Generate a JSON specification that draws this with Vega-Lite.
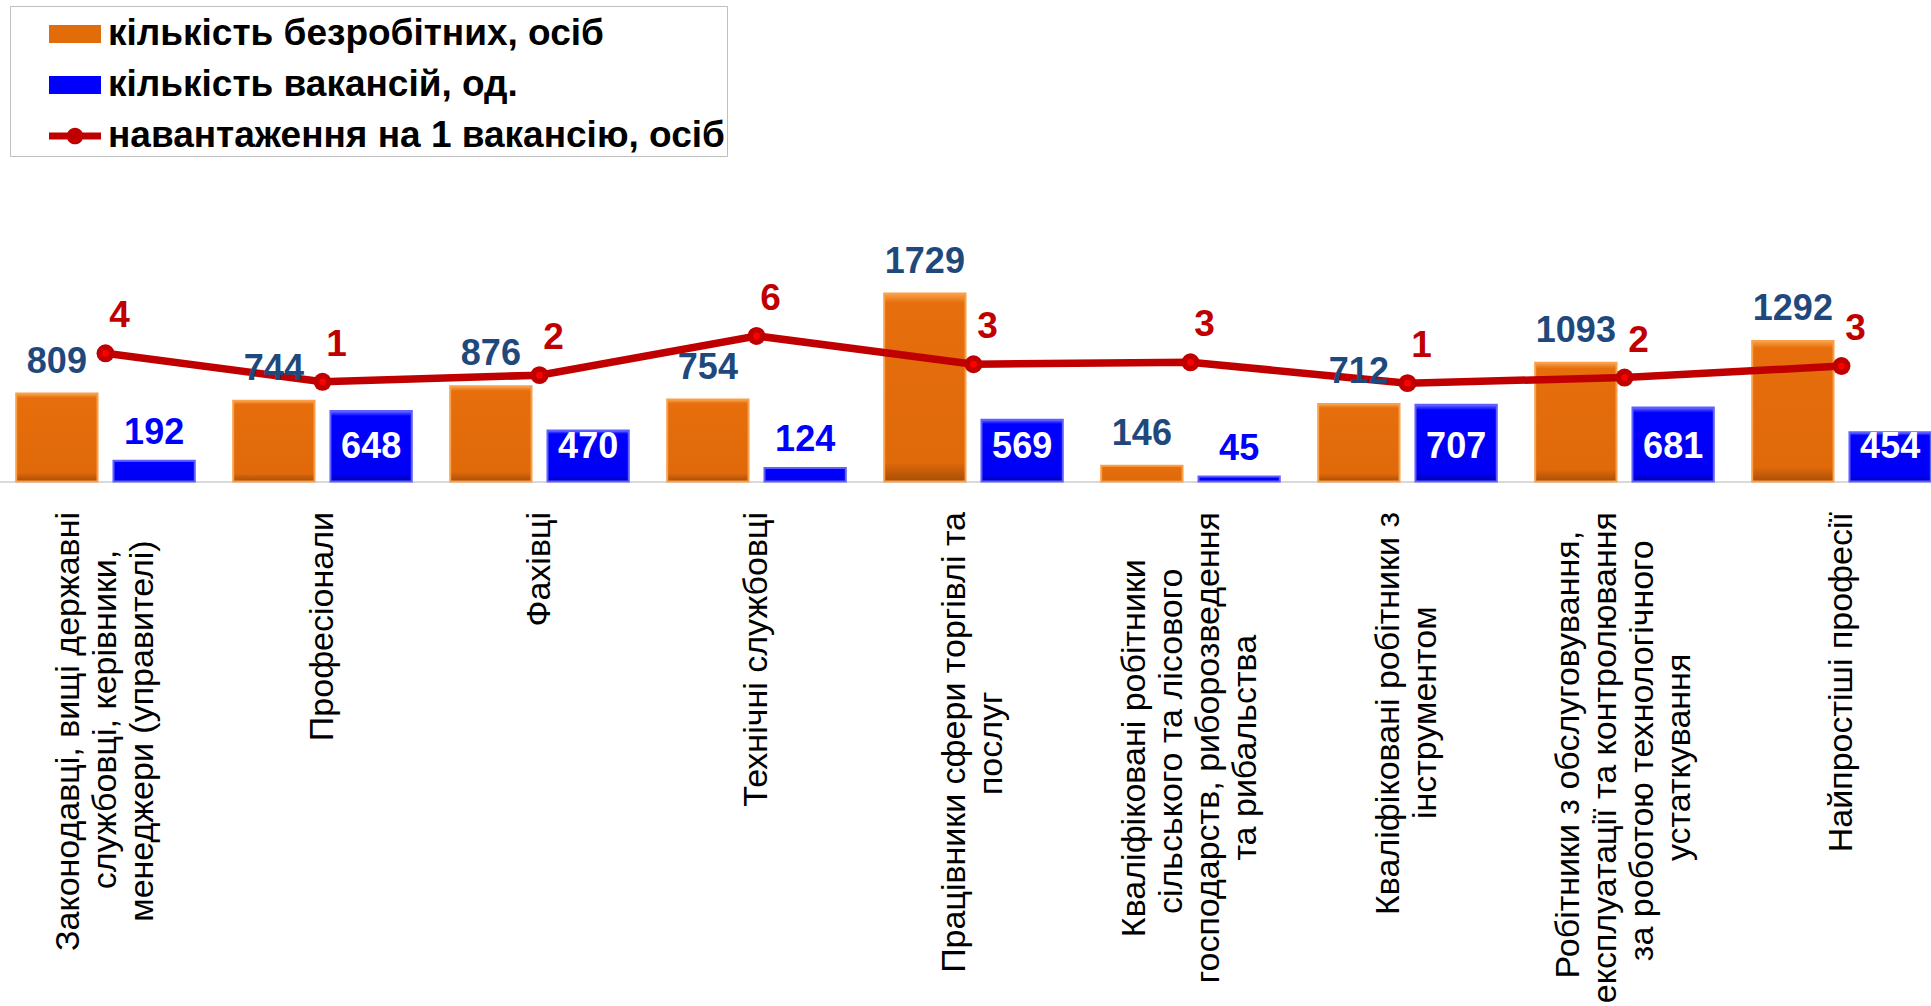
{
  "$schema": "https://vega.github.io/schema/vega-lite/v6.json",
  "width": 1931,
  "height": 481.5,
  "autosize": "none",
  "padding": {"left": 0, "top": 0, "right": 0, "bottom": 524.5},
  "background": "#FFFFFF",
  "config": {"view": {"stroke": null}, "font": "Liberation Sans"},
  "data": {"values": [
    {"c": "Законодавці, вищі державні службовці, керівники, менеджери (управителі)", "s": "кількість безробітних, осіб", "v": 809},
    {"c": "Законодавці, вищі державні службовці, керівники, менеджери (управителі)", "s": "кількість вакансій, од.", "v": 192},
    {"c": "Законодавці, вищі державні службовці, керівники, менеджери (управителі)", "s": "навантаження на 1 вакансію, осіб", "v": 4.2135},
    {"c": "Професіонали", "s": "кількість безробітних, осіб", "v": 744},
    {"c": "Професіонали", "s": "кількість вакансій, од.", "v": 648},
    {"c": "Професіонали", "s": "навантаження на 1 вакансію, осіб", "v": 1.1481},
    {"c": "Фахівці", "s": "кількість безробітних, осіб", "v": 876},
    {"c": "Фахівці", "s": "кількість вакансій, од.", "v": 470},
    {"c": "Фахівці", "s": "навантаження на 1 вакансію, осіб", "v": 1.8638},
    {"c": "Технічні службовці", "s": "кількість безробітних, осіб", "v": 754},
    {"c": "Технічні службовці", "s": "кількість вакансій, од.", "v": 124},
    {"c": "Технічні службовці", "s": "навантаження на 1 вакансію, осіб", "v": 6.0806},
    {"c": "Працівники сфери торгівлі та послуг", "s": "кількість безробітних, осіб", "v": 1729},
    {"c": "Працівники сфери торгівлі та послуг", "s": "кількість вакансій, од.", "v": 569},
    {"c": "Працівники сфери торгівлі та послуг", "s": "навантаження на 1 вакансію, осіб", "v": 3.0387},
    {"c": "Кваліфіковані робітники сільського та лісового господарств, риборозведення та рибальства", "s": "кількість безробітних, осіб", "v": 146},
    {"c": "Кваліфіковані робітники сільського та лісового господарств, риборозведення та рибальства", "s": "кількість вакансій, од.", "v": 45},
    {"c": "Кваліфіковані робітники сільського та лісового господарств, риборозведення та рибальства", "s": "навантаження на 1 вакансію, осіб", "v": 3.2444},
    {"c": "Кваліфіковані робітники з інструментом", "s": "кількість безробітних, осіб", "v": 712},
    {"c": "Кваліфіковані робітники з інструментом", "s": "кількість вакансій, од.", "v": 707},
    {"c": "Кваліфіковані робітники з інструментом", "s": "навантаження на 1 вакансію, осіб", "v": 1.0071},
    {"c": "Робітники з обслуговування, експлуатації та контролювання за роботою технологічного устаткування", "s": "кількість безробітних, осіб", "v": 1093},
    {"c": "Робітники з обслуговування, експлуатації та контролювання за роботою технологічного устаткування", "s": "кількість вакансій, од.", "v": 681},
    {"c": "Робітники з обслуговування, експлуатації та контролювання за роботою технологічного устаткування", "s": "навантаження на 1 вакансію, осіб", "v": 1.605},
    {"c": "Найпростіші професії", "s": "кількість безробітних, осіб", "v": 1292},
    {"c": "Найпростіші професії", "s": "кількість вакансій, од.", "v": 454},
    {"c": "Найпростіші професії", "s": "навантаження на 1 вакансію, осіб", "v": 2.8458}
  ]},
  "encoding": {
    "x": {
      "field": "c", "type": "nominal", "sort": null,
      "scale": {"range": [-3, 1950], "paddingInner": 0.177, "paddingOuter": 0.0885},
      "axis": {
        "title": null,
        "labelAngle": -90, "labelAlign": "right", "labelBaseline": "middle",
        "labelFont": "Liberation Sans", "labelFontSize": 34, "labelLineHeight": 37,
        "labelColor": "#000000", "labelPadding": 30, "labelOverlap": false, "labelLimit": 0,
        "labelOffset": {"condition": [
          {"test": "datum.value == 'Кваліфіковані робітники сільського та лісового господарств, риборозведення та рибальства' || datum.value == 'Робітники з обслуговування, експлуатації та контролювання за роботою технологічного устаткування'", "value": -55.5},
          {"test": "datum.value == 'Законодавці, вищі державні службовці, керівники, менеджери (управителі)'", "value": -37},
          {"test": "datum.value == 'Працівники сфери торгівлі та послуг' || datum.value == 'Кваліфіковані робітники з інструментом'", "value": -18.5}
        ], "value": 0},
        "ticks": false, "tickSize": 0,
        "domainColor": "#D9D9D9", "domainWidth": 2,
        "labelExpr": "datum.value == 'Законодавці, вищі державні службовці, керівники, менеджери (управителі)' ? ['Законодавці, вищі державні', 'службовці, керівники,\u00a0\u00a0\u00a0\u00a0\u200b', 'менеджери (управителі)\u00a0\u00a0\u00a0\u200b'] : datum.value == 'Працівники сфери торгівлі та послуг' ? ['Працівники сфери торгівлі та', 'послуг\u00a0\u00a0\u00a0\u00a0\u00a0\u00a0\u00a0\u00a0\u00a0\u00a0\u00a0\u00a0\u00a0\u00a0\u00a0\u00a0\u00a0\u00a0\u00a0\u200b'] : datum.value == 'Кваліфіковані робітники сільського та лісового господарств, риборозведення та рибальства' ? ['Кваліфіковані робітники\u00a0\u00a0\u00a0\u00a0\u00a0\u200b', 'сільського та лісового\u00a0\u00a0\u00a0\u00a0\u00a0\u00a0\u200b', 'господарств, риборозведення', 'та рибальства\u00a0\u00a0\u00a0\u00a0\u00a0\u00a0\u00a0\u00a0\u00a0\u00a0\u00a0\u00a0\u00a0\u200b'] : datum.value == 'Кваліфіковані робітники з інструментом' ? ['Кваліфіковані робітники з', 'інструментом\u00a0\u00a0\u00a0\u00a0\u00a0\u00a0\u00a0\u00a0\u00a0\u00a0\u200b'] : datum.value == 'Робітники з обслуговування, експлуатації та контролювання за роботою технологічного устаткування' ? ['Робітники з обслуговування,\u00a0\u00a0\u200b', 'експлуатації та контролювання', 'за роботою технологічного\u00a0\u00a0\u00a0\u200b', 'устаткування\u00a0\u00a0\u00a0\u00a0\u00a0\u00a0\u00a0\u00a0\u00a0\u00a0\u00a0\u00a0\u00a0\u00a0\u00a0\u200b'] : datum.label"
      }
    }
  },
  "layer": [
    {
      "encoding": {
        "xOffset": {"field": "s", "type": "nominal", "scale": {"domain": ["кількість безробітних, осіб", "кількість вакансій, од."], "paddingInner": 0.164, "paddingOuter": 0}},
        "y": {"field": "v", "type": "quantitative", "scale": {"domain": [0, 4430], "nice": false, "zero": false}, "axis": null}
      },
      "layer": [
        {
          "transform": [{"filter": "datum.s == 'кількість безробітних, осіб'"}],
          "mark": {"type": "bar", "strokeWidth": 2, "stroke": "#F9A04A",
            "fill": {"gradient": "linear", "x1": 0, "y1": 0, "x2": 0, "y2": 1, "stops": [{"offset": 0, "color": "#F8A048"}, {"offset": 0.05, "color": "#E66E0C"}, {"offset": 0.9, "color": "#E0690A"}, {"offset": 1, "color": "#A84E06"}]}}
        },
        {
          "transform": [{"filter": "datum.s == 'кількість вакансій, од.'"}],
          "mark": {"type": "bar", "strokeWidth": 2, "stroke": "#6060FF",
            "fill": {"gradient": "linear", "x1": 0, "y1": 0, "x2": 0, "y2": 1, "stops": [{"offset": 0, "color": "#6A6AFF"}, {"offset": 0.07, "color": "#0000FF"}, {"offset": 0.9, "color": "#0000F4"}, {"offset": 1, "color": "#0000A8"}]}}
        },
        {
          "mark": {"type": "point", "filled": true, "opacity": 0},
          "encoding": {
            "xOffset": {"value": 0},
            "color": {"field": "s", "type": "nominal",
              "scale": {"domain": ["кількість безробітних, осіб", "кількість вакансій, од.", "навантаження на 1 вакансію, осіб"], "range": ["#E26B0A", "#0000FF", "#C00000"]},
              "legend": {"title": null, "orient": "none", "legendX": 10, "legendY": 6, "direction": "vertical", "padding": 2, "strokeColor": "#BFBFBF", "fillColor": "#FFFFFF", "labelFont": "Liberation Sans", "labelFontSize": 37, "labelFontWeight": "bold", "labelColor": "#000000", "labelLimit": 900, "labelOffset": 7, "symbolSize": 2704, "symbolOffset": 37, "symbolStrokeWidth": 0, "symbolOpacity": 1, "rowPadding": 7}},
            "shape": {"field": "s", "type": "nominal",
              "scale": {"domain": ["кількість безробітних, осіб", "кількість вакансій, од.", "навантаження на 1 вакансію, осіб"], "range": ["M-1,-0.35L1,-0.35L1,0.35L-1,0.35Z", "M-1,-0.35L1,-0.35L1,0.35L-1,0.35Z", "M-1,-0.13L1,-0.13L1,0.13L-1,0.13Z M0.32,0A0.32,0.32,0,1,1,-0.32,0A0.32,0.32,0,1,1,0.32,0Z"]},
              "legend": {"title": null, "orient": "none", "legendX": 10, "legendY": 6, "direction": "vertical", "padding": 2, "strokeColor": "#BFBFBF", "fillColor": "#FFFFFF", "labelFont": "Liberation Sans", "labelFontSize": 37, "labelFontWeight": "bold", "labelColor": "#000000", "labelLimit": 900, "labelOffset": 7, "symbolSize": 2704, "symbolOffset": 37, "symbolStrokeWidth": 0, "symbolOpacity": 1, "rowPadding": 7}}
          }
        }
      ]
    },
    {
      "transform": [{"filter": "datum.s == 'навантаження на 1 вакансію, осіб'"}],
      "encoding": {
        "y": {"field": "v", "type": "quantitative", "scale": {"domain": [-9.57, 42.2], "nice": false, "zero": false}, "axis": null}
      },
      "layer": [
        {"mark": {"type": "line", "color": "#C00000", "strokeWidth": 7.5}, "encoding": {}},
        {"mark": {"type": "point", "shape": "circle", "filled": true, "size": 320, "color": "#C00000", "opacity": 1}, "encoding": {}},
        {"mark": {"type": "point", "shape": "circle", "filled": true, "size": 45, "color": "#FF0000", "opacity": 1}, "encoding": {}},
        {"mark": {"type": "text", "font": "Liberation Sans", "fontSize": 37, "fontWeight": "bold", "color": "#C00000", "dx": 14, "dy": -37, "baseline": "middle", "align": "center"},
         "encoding": {"text": {"field": "v", "type": "quantitative", "format": ".0f"}}}
      ]
    },
    {
      "encoding": {
        "xOffset": {"field": "s", "type": "nominal", "scale": {"domain": ["кількість безробітних, осіб", "кількість вакансій, од."], "paddingInner": 0.164, "paddingOuter": 0}},
        "y": {"field": "v", "type": "quantitative", "scale": {"domain": [0, 4430], "nice": false, "zero": false}, "axis": null},
        "text": {"field": "v", "type": "quantitative", "format": "d"}
      },
      "layer": [
        {"transform": [{"filter": "datum.s == 'кількість безробітних, осіб'"}],
         "mark": {"type": "text", "font": "Liberation Sans", "fontSize": 36, "fontWeight": "bold", "color": "#1F497D", "dy": -32, "baseline": "middle", "align": "center"}},
        {"transform": [{"filter": "datum.s == 'кількість вакансій, од.' && datum.v >= 300"}],
         "mark": {"type": "text", "font": "Liberation Sans", "fontSize": 36, "fontWeight": "bold", "color": "#FFFFFF", "dy": -35, "baseline": "middle", "align": "center"},
         "encoding": {"y": {"datum": 0, "type": "quantitative", "scale": {"domain": [0, 4430], "nice": false, "zero": false}, "axis": null}}},
        {"transform": [{"filter": "datum.s == 'кількість вакансій, од.' && datum.v < 300"}],
         "mark": {"type": "text", "font": "Liberation Sans", "fontSize": 36, "fontWeight": "bold", "color": "#0000FF", "dy": -28, "baseline": "middle", "align": "center"}}
      ]
    }
  ],
  "resolve": {"scale": {"y": "independent"}}
}
